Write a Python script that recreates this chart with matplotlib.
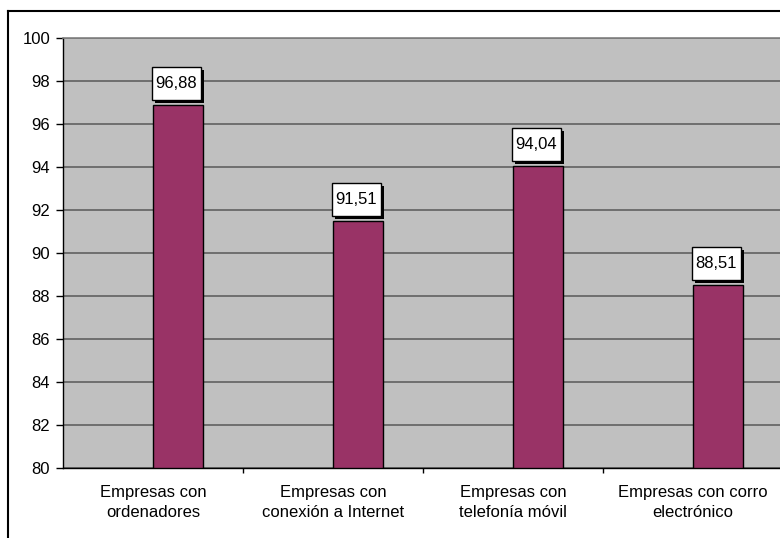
import matplotlib
matplotlib.use("Agg")
import matplotlib.pyplot as plt
import matplotlib.transforms as mtransforms
from matplotlib.patches import Rectangle
from matplotlib.lines import Line2D

categories = ["Empresas con\nordenadores", "Empresas con\nconexión a Internet",
              "Empresas con\ntelefonía móvil", "Empresas con corro\nelectrónico"]
values = [96.88, 91.51, 94.04, 88.51]
labels = ["96,88", "91,51", "94,04", "88,51"]
yticks = [80, 82, 84, 86, 88, 90, 92, 94, 96, 98, 100]

plt.rcParams['font.family'] = ['Liberation Sans', 'DejaVu Sans']

W, H = 780, 538
fig = plt.figure(figsize=(W / 100, H / 100), dpi=100, facecolor='white')
ax = fig.add_axes([63 / W, 70 / H, 720 / W, 430 / H])
ax.set_facecolor('#C0C0C0')

bar_w = 50 / 180
xs = list(range(len(values)))
ax.bar(xs, [v - 80 for v in values], width=bar_w, bottom=80, align='edge',
       color='#993366', edgecolor='black', linewidth=1, zorder=3)

ax.set_xlim(-0.5, 3.5)
ax.set_ylim(80, 100)
ax.set_yticks(yticks)
ax.set_yticklabels([str(t) for t in yticks])
ax.yaxis.grid(True, color='#606060', linewidth=1.2, zorder=1)
ax.set_axisbelow(True)

ax.set_xticks([0.5, 1.5, 2.5])
ax.set_xticklabels([])
ax.set_xticks(xs, minor=True)
ax.set_xticklabels(categories, minor=True, fontsize=12, linespacing=1.38)
ax.tick_params(axis='x', which='major', direction='out', length=3.6, width=1, color='black')
ax.tick_params(axis='x', which='minor', length=0, pad=12.5)
ax.tick_params(axis='y', direction='out', length=5, width=1, pad=4.3, labelsize=12)

for s in ['left', 'bottom']:
    ax.spines[s].set_color('black')
    ax.spines[s].set_linewidth(1)
ax.spines['top'].set_color('#808080')
ax.spines['top'].set_linewidth(1.2)
ax.spines['right'].set_visible(False)

# value labels: white box with black shadow, sized in pixels
bw, bh, gap, sh = 49, 33, 5, 3
for x, v, lab in zip(xs, values, labels):
    anchor = mtransforms.ScaledTranslation(x + bar_w / 2, v, ax.transData)
    tr = mtransforms.Affine2D().translate(-bw / 2 - 2, gap) + anchor
    ax.add_patch(Rectangle((sh, -sh), bw, bh, transform=tr, facecolor='black',
                           edgecolor='none', zorder=5, clip_on=False))
    ax.add_patch(Rectangle((0, 0), bw, bh, transform=tr, facecolor='white',
                           edgecolor='black', linewidth=1, zorder=6, clip_on=False))
    ax.text(bw / 2, bh / 2, lab, transform=tr, ha='center', va='center',
            fontsize=12, zorder=7)

# outer chart frame
fig.add_artist(Line2D([7.5 / W, 7.5 / W], [0, 1 - 10.5 / H], color='black', linewidth=1.5))
fig.add_artist(Line2D([7.5 / W, 1], [1 - 10.5 / H, 1 - 10.5 / H], color='black', linewidth=1.5))

fig.savefig('out.png', dpi=100)
